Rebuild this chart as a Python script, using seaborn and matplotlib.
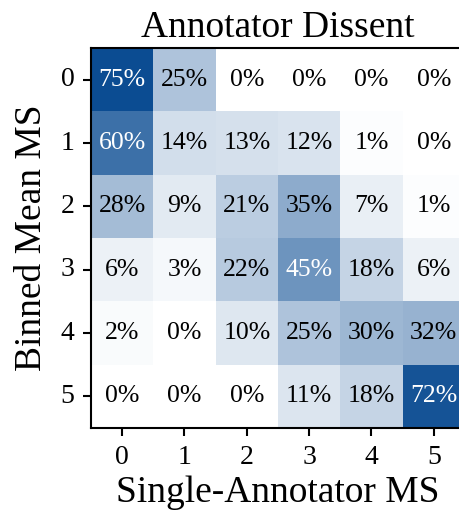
import numpy as np
import pandas as pd
import seaborn as sns
import matplotlib
matplotlib.use("Agg")
import matplotlib.pyplot as plt
from matplotlib.colors import LinearSegmentedColormap

# Share of items (%) per binned mean MS row vs. single-annotator MS column
binned_mean_ms = [0, 1, 2, 3, 4, 5]
single_annotator_ms = [0, 1, 2, 3, 4, 5]
row_0 = [75, 25, 0, 0, 0, 0]
row_1 = [60, 14, 13, 12, 1, 0]
row_2 = [28, 9, 21, 35, 7, 1]
row_3 = [6, 3, 22, 45, 18, 6]
row_4 = [2, 0, 10, 25, 30, 32]
row_5 = [0, 0, 0, 11, 18, 72]

table = pd.DataFrame([row_0, row_1, row_2, row_3, row_4, row_5],
                     index=binned_mean_ms, columns=single_annotator_ms)

sns.set_theme(style="white")
plt.rcParams["font.family"] = ["Liberation Serif", "DejaVu Serif"]
plt.rcParams["text.color"] = "black"
plt.rcParams["axes.labelcolor"] = "black"
plt.rcParams["xtick.color"] = "black"
plt.rcParams["ytick.color"] = "black"

cmap = LinearSegmentedColormap.from_list("dissent", ["#ffffff", "#0b4c92"])

fig = plt.figure(figsize=(4.6, 5.14), dpi=100)
ax = fig.add_axes([91 / 460, 86 / 514, 374 / 460, 380 / 514])

annot = table.map(lambda v: f"{v}%")
sns.heatmap(table, ax=ax, cmap=cmap, vmin=0, vmax=75, cbar=False,
            annot=annot, fmt="", square=False,
            annot_kws={"fontsize": 18.5})

flat = table.values.ravel()
for txt, v in zip(ax.texts, flat):
    txt.set_color("white" if v >= 40 else "black")

for side in ["top", "left", "bottom", "right"]:
    ax.spines[side].set_visible(True)
    ax.spines[side].set_color("black")
    ax.spines[side].set_linewidth(1.5)

ax.tick_params(axis="both", which="major", length=6, width=1.5,
               color="black", labelcolor="black", labelsize=20, pad=6,
               bottom=True, left=True)
ax.set_yticklabels(binned_mean_ms, rotation=0)
ax.set_xticklabels(single_annotator_ms, rotation=0)

ax.set_title("Annotator Dissent", fontsize=27, pad=8, color="black")
ax.set_ylabel("Binned Mean MS", fontsize=27, labelpad=8, color="black")
ax.set_xlabel("Single-Annotator MS", fontsize=27, labelpad=4, color="black")

fig.savefig("out.png", dpi=100)
